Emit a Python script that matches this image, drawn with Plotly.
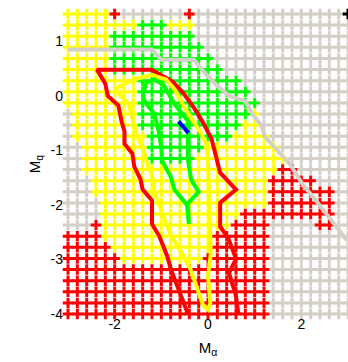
import numpy as np
import plotly.graph_objects as go

# grid of parameters
ma_vals = np.round(np.linspace(-3, 3, 31), 4)
mq_vals = np.linspace(-4, 1.5, 28)

# region boundaries (data units)
yellow_bx = [-3.1, -2.1, -2.1, -0.3, -0.3, 0.17, 0.6, 1.05, 1.2, 1.3, 1.8, 2.1, 1.3, 0.2, -0.3, -2.2, -2.35, -2.42, -2.58, -2.72, -2.88, -3.1]
yellow_by = [1.6, 1.6, 1.42, 1.42, 1.15, 0.6, 0.3, -0.1, -0.6, -0.85, -1.3, -1.7, -2.3, -3.0, -3.3, -3.3, -2.3, -1.7, -1.4, -1.15, -0.6, 0.05]

green_bx = [-1.45, -0.9, -0.9, -0.3, 0.17, 0.65, 1.05, 0.35, -0.1, -0.3, -1.3, -1.42, -1.5, -1.6, -2.1, -2.1, -1.45]
green_by = [1.38, 1.38, 1.2, 1.2, 0.6, 0.28, -0.12, -0.8, -0.9, -1.25, -1.25, -0.5, 0.1, 0.4, 0.45, 1.2, 1.2]

red_bx = [-3.1, -2.5, -2.42, -2.1, -1.45, -0.4, -0.05, 0.05, 0.15, 0.45, 0.65, 1.25, 1.25, 1.45, 1.65, 2.2, 2.65, 2.7, 2.25, 2.2, 1.38, 1.38, -3.1]
red_by = [-2.47, -2.47, -2.3, -2.95, -3.1, -3.15, -3.05, -2.75, -2.55, -2.35, -2.15, -1.98, -1.65, -1.5, -1.3, -1.45, -1.7, -2.5, -2.5, -2.2, -2.2, -4.1, -4.1]

# isolated marks on the top row
red_pts_x = [-2.0, -0.4]
red_pts_y = [1.5, 1.5]
black_pts_x = [3.0]
black_pts_y = [1.5]

# contour / boundary lines
gray_lx = [-3, -1.2, -1.0, -0.3, -0.1, 0.2, 0.45, 0.8, 0.95, 1.15, 1.22, 1.75, 2.05, 2.25, 2.95, 3.0]
gray_ly = [0.85, 0.85, 0.66, 0.66, 0.45, 0.18, 0.0, -0.1, -0.33, -0.55, -0.75, -1.25, -1.65, -1.85, -2.62, -2.65]

red_lx = [-0.43, -0.5, -0.65, -0.8, -0.87, -1.04, -1.2, -1.2, -1.4, -1.45, -1.58, -1.62, -1.79, -1.79, -1.85, -1.92, -2.15, -2.2, -2.38,
          -1.21, -0.76, -0.53, -0.3, -0.1, 0.08, 0.2, 0.26, 0.6, 0.26, 0.26, 0.43, 0.6, 0.45, 0.6, 0.65]
red_ly = [-4.0, -3.85, -3.5, -3.17, -2.95, -2.58, -2.35, -1.92, -1.72, -1.52, -1.3, -1.06, -0.88, -0.65, -0.48, -0.18, 0.0, 0.22, 0.48,
          0.48, 0.26, 0.05, -0.22, -0.5, -0.8, -1.2, -1.41, -1.72, -1.96, -2.4, -2.6, -2.99, -3.25, -3.67, -4.0]

yel_lx = [-2.0, -1.6, -1.2, -0.9, -0.72, -0.47, -0.17, -0.04, 0.0, 0.02, 0.04, 0.06, 0.0, 0.05, 0.0, -0.1, -0.2, -0.38, -0.55, -0.8, -1.0, -1.15, -1.2, -1.3, -1.38, -1.53, -1.6, -1.7, -2.0]
yel_ly = [0.12, 0.3, 0.38, 0.3, 0.12, -0.26, -0.66, -0.87, -1.2, -1.6, -2.35, -2.9, -3.3, -3.8, -3.92, -3.85, -3.6, -3.17, -2.9, -2.55, -2.1, -1.78, -1.45, -1.25, -1.0, -0.7, -0.46, -0.15, 0.12]

grn_lx = [-1.4, -1.32, -1.15, -0.95, -0.72, -0.43, -0.43, -0.36, -0.2, -0.43, -0.41, -0.45, -0.72, -0.8, -0.98, -1.0, -1.06, -1.15, -1.32, -1.4]
grn_ly = [-0.02, 0.24, 0.3, 0.2, -0.15, -0.46, -1.17, -1.54, -1.76, -1.97, -2.35, -2.0, -1.72, -1.48, -1.2, -0.94, -0.64, -0.33, -0.15, -0.02]

blu_lx = [-0.63, -0.52, -0.42, -0.5, -0.63]
blu_ly = [-0.47, -0.57, -0.68, -0.6, -0.47]


def inside(px, py, bx, by):
    bx = np.asarray(bx); by = np.asarray(by)
    res = np.zeros(px.shape, dtype=bool)
    n = len(bx)
    j = n - 1
    for i in range(n):
        cond = ((by[i] > py) != (by[j] > py)) & (
            px < (bx[j] - bx[i]) * (py - by[i]) / (by[j] - by[i] + 1e-12) + bx[i])
        res ^= cond
        j = i
    return res


MA, MQ = np.meshgrid(ma_vals, mq_vals)
X = MA.ravel(); Y = MQ.ravel()
cat = np.full(X.shape, 'gray', dtype=object)
cat[inside(X, Y, yellow_bx, yellow_by)] = 'yellow'
cat[inside(X, Y, green_bx, green_by)] = 'green'
cat[inside(X, Y, red_bx, red_by)] = 'red'

colors = {'gray': '#d4d0c8', 'yellow': '#ffff00', 'green': '#00ff00', 'red': '#ff0000'}

fig = go.Figure()
MS = 7.5
MW = 3
for c in ['gray', 'yellow', 'green', 'red']:
    m = cat == c
    fig.add_trace(go.Scatter(x=X[m], y=Y[m], mode='markers', cliponaxis=False,
                             marker=dict(symbol='cross-thin', size=MS, color=colors[c],
                                         line=dict(width=MW, color=colors[c])),
                             showlegend=False, hoverinfo='skip'))
fig.add_trace(go.Scatter(x=red_pts_x, y=red_pts_y, mode='markers', cliponaxis=False,
                         marker=dict(symbol='cross-thin', size=MS, color='#ff0000', line=dict(width=MW, color='#ff0000')),
                         showlegend=False))
fig.add_trace(go.Scatter(x=black_pts_x, y=black_pts_y, mode='markers', cliponaxis=False,
                         marker=dict(symbol='cross-thin', size=MS, color='#000000', line=dict(width=MW, color='#000000')),
                         showlegend=False))

for lx, ly, col in [(gray_lx, gray_ly, '#d4d0c8'), (red_lx, red_ly, '#ff0000'), (yel_lx, yel_ly, '#ffff00'),
                    (grn_lx, grn_ly, '#00ff00'), (blu_lx, blu_ly, '#0000ff')]:
    fig.add_trace(go.Scatter(x=lx, y=ly, mode='lines', line=dict(color=col, width=4),
                             showlegend=False, hoverinfo='skip'))

fig.update_layout(
    width=348, height=362,
    margin=dict(l=68, r=0, t=14, b=48),
    paper_bgcolor='white', plot_bgcolor='white',
    font=dict(family='Liberation Sans, Arial, sans-serif', size=14, color='black'),
    xaxis=dict(range=[-3, 3], tickvals=[-2, 0, 2], ticktext=['-2', '0', '2'], showgrid=False, zeroline=False,
               showline=False, ticks='', title=dict(text='M<sub>α</sub>', standoff=11, font=dict(size=15))),
    yaxis=dict(range=[-4, 1.5], tickvals=[-4, -3, -2, -1, 0, 1], ticktext=['-4', '-3', '-2', '-1', '0', '1'],
               showgrid=False, zeroline=False, showline=False, ticks='', ticklabelstandoff=4,
               title=dict(text='M<sub>q</sub>', standoff=6, font=dict(size=15))),
)
fig.write_html('out.html')
